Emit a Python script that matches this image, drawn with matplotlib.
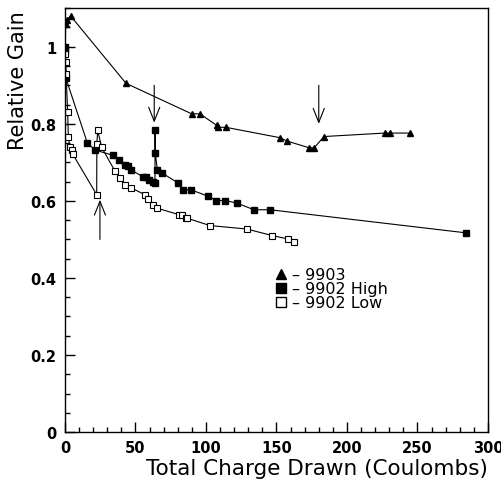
import matplotlib

matplotlib.use("Agg")
import matplotlib.pyplot as plt  # noqa: E402
from matplotlib.lines import Line2D  # noqa: E402
from matplotlib.ticker import MultipleLocator  # noqa: E402

# series
x_9903 = [0.2, 0.5, 1.6, 4.0, 43.3, 89.8, 95.7, 107.6, 108.5, 114.0, 152.5, 157.7,
          173.0, 176.8, 183.7, 226.7, 230.5, 244.9]
y_9903 = [1.0, 1.06, 1.07, 1.08, 0.905, 0.826, 0.826, 0.796, 0.791, 0.791, 0.764, 0.755,
          0.738, 0.738, 0.767, 0.776, 0.776, 0.776]

x_high = [0.2, 0.3, 0.5, 15.8, 21.3, 34.3, 38.3, 42.6, 44.5, 46.6, 55.1, 57.4, 59.8,
          62.2, 63.8, 63.9, 64.0, 65.5, 68.6, 80.4, 83.9, 89.1, 101.6, 107.4, 113.7,
          122.2, 134.0, 145.4, 284.6]
y_high = [1.0, 0.99, 0.92, 0.751, 0.732, 0.718, 0.706, 0.692, 0.690, 0.681, 0.663, 0.663,
          0.655, 0.648, 0.646, 0.784, 0.725, 0.681, 0.673, 0.646, 0.629, 0.629, 0.612,
          0.601, 0.601, 0.594, 0.577, 0.577, 0.517]

x_low = [0.3, 0.5, 0.8, 1.9, 2.4, 3.5, 4.7, 5.4, 22.5, 22.6, 23.2, 26.0, 35.5, 39.0,
         42.6, 46.8, 56.7, 59.1, 62.2, 65.5, 81.1, 82.7, 85.8, 86.7, 102.8, 128.9,
         147.0, 158.4, 162.6]
y_low = [0.98, 0.96, 0.93, 0.83, 0.765, 0.739, 0.733, 0.722, 0.616, 0.748, 0.783, 0.739,
         0.677, 0.660, 0.642, 0.634, 0.616, 0.605, 0.590, 0.581, 0.564, 0.564, 0.555,
         0.555, 0.536, 0.527, 0.510, 0.501, 0.493]

# arrows: (x, tail y, tip y)
arrows = [(24.8, 0.50, 0.603), (63.3, 0.90, 0.803), (180.0, 0.90, 0.80)]

legend_labels = ["\u2013 9903", "\u2013 9902 High", "\u2013 9902 Low"]

plt.rcParams["font.family"] = ["DejaVu Sans"]

fig = plt.figure(figsize=(5.01, 4.85), dpi=100)
ax = fig.add_axes([0.1297, 0.107, 0.8443, 0.874])

line_kw = dict(color="black", linewidth=0.8)
ax.plot(x_9903, y_9903, marker="^", markersize=4.5, markerfacecolor="black",
        markeredgecolor="black", **line_kw)
ax.plot(x_high, y_high, marker="s", markersize=4.5, markerfacecolor="black",
        markeredgecolor="black", **line_kw)
ax.plot(x_low, y_low, marker="s", markersize=5, markerfacecolor="white",
        markeredgecolor="black", markeredgewidth=0.8, **line_kw)

for ax_x, y_tail, y_tip in arrows:
    ax.annotate("", xy=(ax_x, y_tip), xytext=(ax_x, y_tail),
                arrowprops=dict(arrowstyle="->,head_length=1.0,head_width=0.4",
                                color="black", linewidth=0.8, shrinkA=0, shrinkB=0))

ax.set_xlim(0, 300)
ax.set_ylim(0, 1.1)
ax.xaxis.set_major_locator(MultipleLocator(50))
ax.xaxis.set_minor_locator(MultipleLocator(10))
ax.yaxis.set_major_locator(MultipleLocator(0.2))
ax.yaxis.set_minor_locator(MultipleLocator(0.05))
ax.set_yticks([0, 0.2, 0.4, 0.6, 0.8, 1.0])
ax.set_yticklabels(["0", "0.2", "0.4", "0.6", "0.8", "1"])
ax.tick_params(which="both", direction="in", top=False, right=False, width=1.0,
               labelsize=10.5)
ax.tick_params(which="major", length=7, pad=6)
ax.tick_params(which="minor", length=3.5)
for lab in ax.get_xticklabels() + ax.get_yticklabels():
    lab.set_fontweight("bold")
for sp in ax.spines.values():
    sp.set_linewidth(1.0)

ax.set_xlabel("Total Charge Drawn (Coulombs)", fontsize=15.5, loc="right")
ax.xaxis.set_label_coords(1.0, -0.062)
ax.xaxis.label.set_verticalalignment("top")
ax.set_ylabel("Relative Gain", fontsize=15, loc="top")
ax.yaxis.set_label_coords(-0.112, 0.996)
ax.yaxis.label.set_verticalalignment("center")

handles = [
    Line2D([], [], linestyle="none", marker="^", markersize=7, color="black"),
    Line2D([], [], linestyle="none", marker="s", markersize=7, color="black"),
    Line2D([], [], linestyle="none", marker="s", markersize=7, markerfacecolor="white",
           markeredgecolor="black"),
]
ax.legend(handles, legend_labels, loc="upper left", bbox_to_anchor=(0.48, 0.405),
          frameon=False, fontsize=11.5, handlelength=0.8, handletextpad=0.3,
          handleheight=0.5, labelspacing=-0.05, borderaxespad=0)

fig.savefig("out.png", dpi=100)
